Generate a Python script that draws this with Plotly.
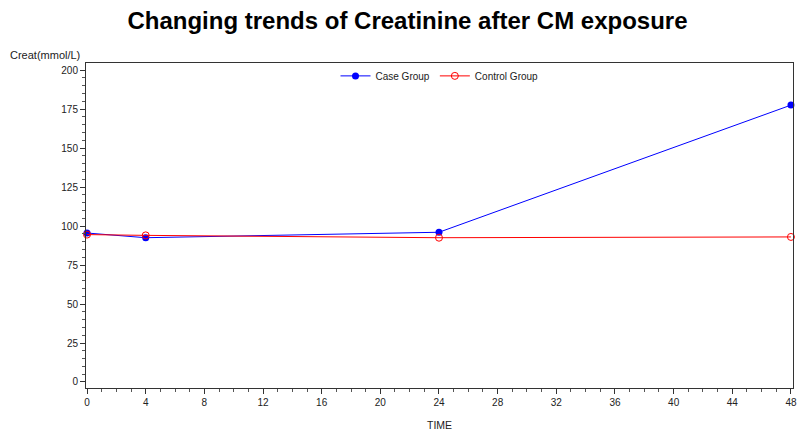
import plotly.graph_objects as go

time = [0, 4, 24, 48]
case_vals = [95.5, 92.5, 96, 177.5]
control_vals = [94.5, 94, 92.5, 93]
x_ticks = list(range(0, 49, 4))
y_ticks = list(range(0, 201, 25))

fig = go.Figure()
fig.add_trace(go.Scatter(
    x=time, y=case_vals, name="Case Group", mode="lines+markers",
    line=dict(color="#0000FF", width=1), cliponaxis=False,
    marker=dict(symbol="circle", size=7, color="#0000FF"),
))
fig.add_trace(go.Scatter(
    x=time, y=control_vals, name="Control Group", mode="lines+markers",
    line=dict(color="#FF0000", width=1), cliponaxis=False,
    marker=dict(symbol="circle-open", size=7, color="#FF0000", line=dict(width=1)),
))

axis_font = dict(family="Liberation Sans, Arial, sans-serif", size=10, color="#222")
fig.update_layout(
    width=799, height=431,
    margin=dict(l=86, r=6, t=63, b=43, autoexpand=False),
    paper_bgcolor="white", plot_bgcolor="white",
    font=axis_font,
    title=dict(text="<b>Changing trends of Creatinine after CM exposure</b>",
               x=0.51, xanchor="center", xref="container", y=0.953, yanchor="middle", yref="container",
               automargin=False,
               font=dict(family="Liberation Sans, Arial, sans-serif", size=24, color="black")),
    showlegend=True,
    legend=dict(orientation="h", x=0.5, xanchor="center", y=1.005, yanchor="top",
                bgcolor="rgba(0,0,0,0)", font=dict(size=10, color="#222"),
                tracegroupgap=0),
    xaxis=dict(range=[-0.07, 48.14], tickmode="array", tickvals=x_ticks, automargin=False,
               ticklabeloverflow="allow",
               showgrid=False, zeroline=False, showline=True, linecolor="#333",
               linewidth=1, mirror=True, ticks="outside", ticklen=5, tickcolor="#333",
               minor=dict(dtick=1, ticks="outside", ticklen=3, tickcolor="#555", showgrid=False)),
    yaxis=dict(range=[-3.85, 204.5], tickmode="array", tickvals=y_ticks, automargin=False,
               ticklabeloverflow="allow",
               showgrid=False, zeroline=False, showline=True, linecolor="#333",
               linewidth=1, mirror=True, ticks="outside", ticklen=5, tickcolor="#333",
               minor=dict(dtick=5, ticks="outside", ticklen=3, tickcolor="#555", showgrid=False)),
    annotations=[
        dict(text="Creat(mmol/L)", xref="paper", yref="paper", x=-0.005, y=1.0,
             xanchor="right", yanchor="bottom", showarrow=False,
             font=dict(size=11, color="#222")),
        dict(text="TIME", xref="paper", yref="paper", x=0.5, y=-0.088,
             xanchor="center", yanchor="top", showarrow=False,
             font=dict(size=10.5, color="#222")),
    ],
)

fig.write_html("out.html", config={"displayModeBar": False},
               post_script="document.body.style.margin='0';document.body.style.overflow='hidden';")
